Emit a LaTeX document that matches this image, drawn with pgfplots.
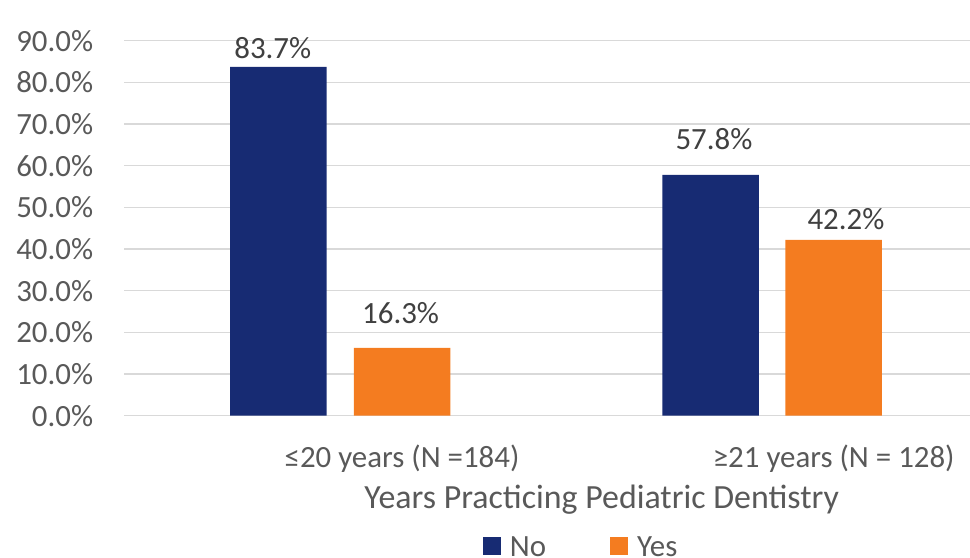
\documentclass[border=0pt]{standalone}
\usepackage{pgfplots}
\pgfplotsset{compat=1.18}
\usepackage{pgfplotstable}
\usepackage{fontspec}
\setmainfont{Carlito}
\definecolor{navy}{HTML}{172B73}
\definecolor{orng}{HTML}{F47C20}
\definecolor{gridgray}{HTML}{D9D9D9}
\definecolor{tickgray}{HTML}{595959}
\definecolor{lblgray}{HTML}{404040}

\pgfplotstableread{
x y dx dy
-0.2863 83.7 -5.6 8.8
0.7146 57.8 3.5 24.9
}\nodata
\pgfplotstableread{
x y dx dy
0.0 16.3 -1.4 24.5
1.0 42.2 12.3 9.9
}\yesdata

\begin{document}
\begin{tikzpicture}
\begin{axis}[
  at={(124.3bp,142.3bp)}, anchor=south west,
  scale only axis, width=855.7bp, height=375bp,
  xmin=-0.6433, xmax=1.3389, ymin=0, ymax=90,
  axis line style={draw=none},
  ytick={0,10,...,90},
  yticklabels={0.0\%,10.0\%,20.0\%,30.0\%,40.0\%,50.0\%,60.0\%,70.0\%,80.0\%,90.0\%},
  xtick={0,1},
  xticklabels={≤20 years (N =184), ≥21 years (N = 128)},
  major tick length=0pt,
  ymajorgrids, grid style={draw=gridgray, line width=1.3bp},
  yticklabel style={anchor=east, inner sep=0pt, xshift=-31bp, font=\fontsize{31}{37}\selectfont, text=tickgray},
  xticklabel style={anchor=base, inner sep=0pt, yshift=-52bp, font=\fontsize{31}{37}\selectfont, text=tickgray},
  xlabel={Years Practicing Pediatric Dentistry},
  xlabel style={at={(axis description cs:0.5579,-0.2469)}, anchor=base, inner sep=0pt, font=\fontsize{34}{40}\selectfont, text=tickgray},
  point meta=y,
  nodes near coords={\pgfmathprintnumber[fixed,fixed zerofill,precision=1,assume math mode=true]{\pgfplotspointmeta}\%},
  visualization depends on={\thisrow{dx} \as \dx},
  visualization depends on={\thisrow{dy} \as \dy},
  every node near coord/.append style={anchor=base, inner sep=0pt, xshift=\dx bp, yshift=\dy bp, font=\fontsize{31}{37}\selectfont, text=lblgray},
  legend columns=2,
  legend image code/.code={\fill[#1] (0bp,-8bp) rectangle (18bp,10bp);},
  legend style={draw=none, fill=none, inner sep=0pt, at={(axis description cs:0.4188,-0.380)}, anchor=south west, font=\fontsize{31}{37}\selectfont, text=tickgray, nodes={inner sep=0pt},
    /tikz/every even column/.append style={column sep=64bp},
    /tikz/every odd column/.append style={column sep=9bp}},
  clip=false,
]
\addplot[ybar, bar width=96.5bp, bar shift=0pt, fill=navy, draw=none] table[x=x,y=y] {\nodata};
\addplot[ybar, bar width=96.5bp, bar shift=0pt, fill=orng, draw=none] table[x=x,y=y] {\yesdata};
\legend{No, Yes}
\end{axis}
\pgfresetboundingbox
\path[use as bounding box] (0,0) rectangle (970bp,558bp);
\end{tikzpicture}
\end{document}
